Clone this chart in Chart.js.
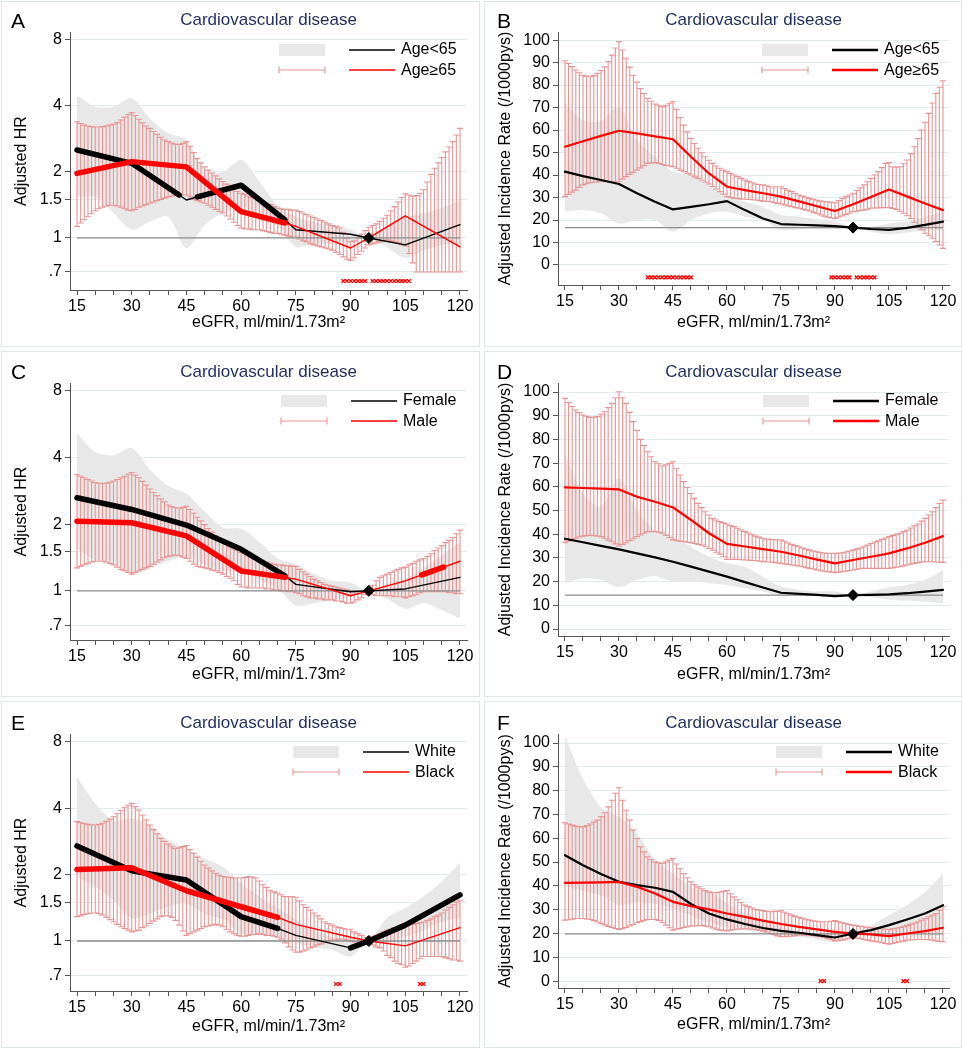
<!DOCTYPE html>
<html>
<head>
<meta charset="utf-8">
<title>Cardiovascular disease by eGFR</title>
<script src="https://cdn.jsdelivr.net/npm/chart.js@4.4.0/dist/chart.umd.min.js"></script>
<style>
  body { margin: 0; background: #fff; }
  #page { position: relative; width: 963px; height: 1050px; }
  .frame { position: absolute; border: 1px solid #dfe6e6; box-sizing: border-box; }
  canvas { position: absolute; }
</style>
</head>
<body>
<div id="page">
  <div class="frame" style="left:1px;top:1px;width:479px;height:346px"></div>
  <div class="frame" style="left:484px;top:1px;width:478px;height:346px"></div>
  <div class="frame" style="left:1px;top:351px;width:479px;height:346px"></div>
  <div class="frame" style="left:484px;top:351px;width:478px;height:346px"></div>
  <div class="frame" style="left:1px;top:701px;width:479px;height:347px"></div>
  <div class="frame" style="left:484px;top:701px;width:478px;height:347px"></div>
  <canvas id="chartA" width="481" height="350" style="left:0;top:0"></canvas>
  <canvas id="chartB" width="482" height="350" style="left:481px;top:0"></canvas>
  <canvas id="chartC" width="481" height="350" style="left:0;top:350px"></canvas>
  <canvas id="chartD" width="482" height="350" style="left:481px;top:350px"></canvas>
  <canvas id="chartE" width="481" height="350" style="left:0;top:700px"></canvas>
  <canvas id="chartF" width="482" height="350" style="left:481px;top:700px"></canvas>
</div>
<script>
"use strict";

const family = "'Liberation Sans', Arial, sans-serif";
Chart.defaults.font.family = family;
Chart.defaults.color = "#000";

// eGFR positions: one error bar per unit, band/curves read every 5 units
const ciX = [];
for (let x = 15; x <= 120; x++) ciX.push(x);
const stepX = [15, 20, 25, 30, 35, 40, 45, 50, 55, 60, 65, 70, 75, 80, 85, 90, 95, 100, 105, 110, 115, 120];
const xTicks = [15, 20, 25, 30, 35, 40, 45, 50, 55, 60, 65, 70, 75, 80, 85, 90, 95, 100, 105, 110, 115, 120];
const hrTicks = [0.7, 1, 1.5, 2, 4, 8];
const irTicks = [0, 10, 20, 30, 40, 50, 60, 70, 80, 90, 100];

const bandColor = "#e8e8e8";
const ciColor = "#e89595";

// ---------- Panel A: HR, age ----------
const aCiHi = [3.39, 3.33, 3.27, 3.24, 3.22, 3.21, 3.21, 3.22, 3.24, 3.27, 3.30, 3.36, 3.45, 3.56, 3.66,
  3.73, 3.62, 3.48, 3.35, 3.24, 3.16, 3.06, 2.97, 2.88, 2.80, 2.75, 2.71, 2.68, 2.67, 2.70,
  2.75, 2.62, 2.45, 2.30, 2.20, 2.11, 2.04, 1.98, 1.92, 1.86, 1.81, 1.76, 1.71, 1.67, 1.63,
  1.60, 1.58, 1.55, 1.53, 1.51, 1.49, 1.46, 1.44, 1.42, 1.39, 1.37, 1.36, 1.35, 1.35, 1.34,
  1.34, 1.32, 1.30, 1.28, 1.26, 1.24, 1.22, 1.20, 1.18, 1.16, 1.14, 1.13, 1.11, 1.06, 1.00,
  0.96, 0.97, 1.00, 1.04, 1.08, 1.12, 1.14, 1.16, 1.19, 1.23, 1.27, 1.33, 1.39, 1.46, 1.53,
  1.59, 1.57, 1.55, 1.56, 1.60, 1.66, 1.80, 1.95, 2.08, 2.20, 2.33, 2.47, 2.60, 2.75, 2.95,
  3.16];
const aCiLo = [1.13, 1.17, 1.21, 1.25, 1.29, 1.33, 1.36, 1.38, 1.40, 1.41, 1.41, 1.40, 1.38, 1.36, 1.34,
  1.33, 1.35, 1.38, 1.40, 1.42, 1.44, 1.46, 1.48, 1.50, 1.52, 1.54, 1.55, 1.56, 1.57, 1.57,
  1.57, 1.54, 1.50, 1.48, 1.46, 1.44, 1.41, 1.38, 1.35, 1.32, 1.30, 1.26, 1.22, 1.18, 1.14,
  1.11, 1.10, 1.10, 1.09, 1.09, 1.09, 1.08, 1.07, 1.06, 1.05, 1.05, 1.04, 1.03, 1.02, 1.01,
  1.01, 0.99, 0.97, 0.96, 0.94, 0.93, 0.92, 0.91, 0.90, 0.89, 0.88, 0.86, 0.84, 0.82, 0.80,
  0.79, 0.81, 0.84, 0.87, 0.90, 0.93, 0.94, 0.95, 0.96, 0.97, 0.98, 0.97, 0.96, 0.95, 0.93,
  0.92, 0.85, 0.77, 0.70, 0.70, 0.70, 0.70, 0.70, 0.70, 0.70, 0.70, 0.70, 0.70, 0.70, 0.70,
  0.70];
const aBandHi = [4.45, 3.97, 3.97, 4.34, 3.51, 3.00, 2.80, 2.04, 2.00, 2.27, 1.81, 1.41, 1.25, 1.18, 1.15, 1.09, 1.00, 1.13, 1.24, 1.30, 1.37, 1.49];
const aBandLo = [1.55, 1.54, 1.30, 1.09, 1.19, 1.25, 0.90, 1.15, 1.30, 1.40, 1.28, 1.13, 0.91, 0.94, 0.94, 0.96, 1.00, 0.91, 0.81, 0.88, 0.93, 0.94];
const aBlackX = [15, 30, 43, 45, 48, 60, 72, 75, 90, 95, 105, 120];
const aBlackY = [2.52, 2.19, 1.57, 1.49, 1.54, 1.74, 1.21, 1.09, 1.04, 1.00, 0.93, 1.15];
const aBlackSig = [[15, 43], [48, 72]];
const aRedX = [15, 30, 45, 60, 72, 75, 90, 95, 105, 120];
const aRedY = [1.97, 2.23, 2.11, 1.32, 1.17, 1.13, 0.90, 1.00, 1.26, 0.91];
const aRedSig = [[15, 72]];
const aStarX = [88, 89, 90, 91, 92, 93, 94, 96, 97, 98, 99, 100, 101, 102, 103, 104, 105, 106];

// ---------- Panel B: incidence, age ----------
const bCiHi = [90.8, 89.6, 88.2, 86.7, 85.5, 84.4, 84.0, 83.7, 84.2, 85.2, 86.5, 88.1, 90.5, 93.3, 96.5,
  99.3, 95.6, 91.9, 88.0, 84.4, 81.3, 78.5, 76.2, 74.1, 72.8, 71.6, 71.0, 70.4, 71.0, 71.9,
  72.6, 69.2, 65.6, 62.2, 59.2, 56.3, 54.0, 51.9, 49.9, 48.1, 46.6, 45.2, 44.0, 43.0, 42.2,
  41.5, 40.7, 40.0, 39.3, 38.5, 37.8, 37.2, 36.6, 36.0, 35.8, 35.6, 35.2, 34.8, 34.8, 34.8,
  34.8, 34.0, 33.3, 32.6, 31.8, 31.1, 30.6, 30.1, 29.6, 29.2, 28.8, 28.4, 28.2, 28.1, 27.9,
  27.7, 28.6, 29.6, 30.4, 31.1, 31.9, 33.1, 34.3, 35.6, 37.0, 38.5, 40.0, 41.5, 43.3, 45.2,
  45.5, 43.7, 43.5, 43.7, 45.0, 46.7, 49.5, 52.6, 56.2, 60.0, 63.5, 67.4, 72.0, 76.3, 79.0,
  81.9];
const bCiLo = [30.4, 31.4, 32.4, 33.3, 34.5, 35.6, 36.1, 36.6, 36.8, 36.9, 37.0, 37.0, 37.0, 37.0, 37.0,
  37.0, 38.2, 39.3, 40.3, 41.2, 42.2, 43.2, 44.2, 45.2, 45.4, 45.5, 45.1, 44.7, 44.3, 44.0,
  43.7, 43.0, 42.2, 41.5, 40.7, 40.0, 39.2, 38.5, 37.7, 36.8, 36.0, 34.9, 33.8, 32.6, 31.5,
  30.4, 30.0, 29.6, 29.5, 29.3, 29.2, 29.1, 29.0, 28.9, 28.6, 28.4, 28.2, 28.1, 27.8, 27.4,
  27.1, 26.7, 26.3, 25.9, 25.5, 25.2, 24.8, 24.4, 24.0, 23.4, 22.8, 22.2, 21.7, 21.2, 20.9,
  20.7, 21.2, 21.8, 22.4, 23.0, 23.7, 23.9, 24.2, 24.4, 24.8, 25.2, 25.3, 25.4, 25.5, 25.5,
  25.5, 25.1, 24.7, 23.9, 23.0, 21.9, 20.7, 18.9, 17.0, 15.6, 14.1, 13.0, 11.9, 10.4, 8.9,
  7.4];
const bBandHi = [71.9, 64.4, 64.0, 70.4, 55.6, 48.1, 41.5, 40.0, 36.0, 30.4, 28.1, 25.9, 22.2, 21.5, 20.3, 19.3, 16.6, 17.0, 18.5, 19.3, 21.5, 23.7];
const bBandLo = [23.7, 24.4, 23.0, 18.5, 20.0, 20.0, 14.8, 20.0, 23.0, 23.7, 21.5, 20.0, 15.6, 15.9, 15.9, 15.9, 16.6, 14.8, 13.6, 14.4, 15.6, 15.6];
const bBlackY = [41.5, 39.5, 37.8, 36.0, 31.9, 28.1, 24.7, 25.8, 27.0, 28.4, 24.4, 20.7, 18.2, 17.9, 17.6, 17.3, 16.6, 16.0, 15.6, 16.5, 17.8, 19.3];
const bRedY = [52.6, 55.0, 57.4, 59.7, 58.5, 57.2, 55.9, 48.1, 40.7, 34.8, 33.3, 31.9, 30.4, 28.3, 26.1, 24.0, 27.0, 30.2, 33.6, 30.5, 27.3, 24.4];
const bStarX = [38, 39, 40, 41, 42, 43, 44, 45, 46, 47, 48, 49, 50, 89, 90, 91, 92, 93, 94, 96, 97, 98, 99, 100, 101];

// ---------- Panel C: HR, sex ----------
const cCiHi = [3.35, 3.29, 3.24, 3.18, 3.13, 3.08, 3.06, 3.05, 3.06, 3.09, 3.13, 3.18, 3.24, 3.29, 3.36,
  3.42, 3.33, 3.24, 3.12, 3.00, 2.88, 2.78, 2.69, 2.60, 2.52, 2.44, 2.40, 2.37, 2.36, 2.38,
  2.41, 2.33, 2.24, 2.15, 2.07, 1.99, 1.91, 1.84, 1.77, 1.71, 1.66, 1.62, 1.58, 1.55, 1.52,
  1.49, 1.47, 1.44, 1.42, 1.40, 1.38, 1.36, 1.35, 1.33, 1.32, 1.31, 1.31, 1.30, 1.30, 1.29,
  1.29, 1.25, 1.22, 1.19, 1.16, 1.13, 1.11, 1.09, 1.07, 1.06, 1.05, 1.04, 1.03, 1.02, 1.01,
  1.00, 1.00, 0.99, 0.99, 1.00, 1.01, 1.06, 1.11, 1.15, 1.17, 1.19, 1.21, 1.23, 1.25, 1.27,
  1.28, 1.31, 1.33, 1.36, 1.38, 1.40, 1.43, 1.47, 1.52, 1.56, 1.60, 1.65, 1.69, 1.74, 1.81,
  1.88];
const cCiLo = [1.27, 1.29, 1.31, 1.33, 1.35, 1.36, 1.36, 1.36, 1.35, 1.33, 1.31, 1.28, 1.25, 1.23, 1.21,
  1.19, 1.21, 1.23, 1.25, 1.27, 1.29, 1.32, 1.35, 1.38, 1.41, 1.43, 1.44, 1.45, 1.44, 1.42,
  1.40, 1.36, 1.32, 1.29, 1.28, 1.27, 1.26, 1.24, 1.23, 1.21, 1.19, 1.16, 1.14, 1.11, 1.07,
  1.04, 1.04, 1.03, 1.03, 1.03, 1.03, 1.03, 1.02, 1.02, 1.01, 1.01, 1.00, 1.00, 0.99, 0.99,
  0.98, 0.97, 0.95, 0.94, 0.93, 0.93, 0.92, 0.92, 0.91, 0.91, 0.91, 0.90, 0.90, 0.89, 0.88,
  0.88, 0.89, 0.91, 0.93, 0.96, 0.99, 0.96, 0.95, 0.95, 0.95, 0.95, 0.95, 0.94, 0.94, 0.94,
  0.93, 0.94, 0.95, 0.96, 0.98, 0.99, 0.99, 0.99, 0.99, 0.99, 0.99, 0.99, 0.98, 0.98, 0.97,
  0.97];
const cBandHi = [5.13, 4.23, 4.09, 4.41, 3.52, 2.98, 2.74, 2.28, 1.93, 1.91, 1.66, 1.40, 1.32, 1.19, 1.11, 1.09, 1.00, 1.07, 1.13, 1.27, 1.45, 1.66];
const cBandLo = [1.55, 1.38, 1.36, 1.19, 1.27, 1.36, 1.43, 1.31, 1.23, 1.23, 1.13, 1.02, 0.86, 0.88, 0.91, 0.94, 1.00, 0.92, 0.83, 0.88, 0.82, 0.75];
const cBlackX = [15, 30, 45, 60, 72, 75, 90, 95, 105, 120];
const cBlackY = [2.63, 2.33, 1.98, 1.54, 1.17, 1.07, 0.99, 1.00, 1.02, 1.15];
const cBlackSig = [[15, 72]];
const cRedX = [15, 30, 45, 60, 72, 75, 90, 95, 105, 109.5, 115.5, 120];
const cRedY = [2.06, 2.03, 1.77, 1.23, 1.15, 1.13, 0.95, 1.00, 1.11, 1.18, 1.28, 1.36];
const cRedSig = [[15, 72], [109.5, 115.5]];

// ---------- Panel D: incidence, sex ----------
const dCiHi = [97.3, 95.5, 93.9, 92.4, 91.3, 90.3, 89.8, 89.3, 89.4, 89.6, 90.6, 91.7, 93.4, 95.2, 97.6,
  100.1, 97.6, 95.2, 91.4, 87.5, 83.8, 80.0, 77.4, 74.8, 72.7, 70.6, 69.7, 68.8, 69.3, 69.9,
  70.6, 67.8, 65.0, 62.2, 59.7, 57.2, 55.1, 53.0, 51.2, 49.5, 48.1, 46.7, 46.0, 45.3, 44.8,
  44.3, 43.7, 43.2, 42.5, 41.8, 41.1, 40.5, 39.8, 39.2, 38.7, 38.3, 38.0, 37.8, 37.7, 37.6,
  37.6, 37.0, 36.3, 35.7, 35.2, 34.7, 34.2, 33.7, 33.3, 32.9, 32.6, 32.3, 32.1, 31.9, 31.9,
  31.9, 32.0, 32.2, 32.5, 32.9, 33.3, 33.8, 34.2, 34.7, 35.4, 36.1, 36.7, 37.2, 37.8, 38.4,
  39.0, 39.5, 40.0, 40.4, 41.1, 41.8, 42.6, 43.5, 44.3, 45.5, 46.7, 48.1, 49.5, 51.2, 53.0,
  54.4];
const dCiLo = [36.4, 37.0, 37.7, 38.3, 38.8, 39.2, 39.4, 39.5, 39.4, 39.2, 39.0, 38.3, 37.5, 36.8, 35.9,
  35.0, 35.7, 36.4, 37.3, 38.1, 39.0, 39.7, 40.4, 41.1, 41.1, 41.1, 40.8, 40.4, 39.5, 38.5,
  37.6, 37.3, 37.1, 36.8, 36.6, 36.4, 36.1, 35.7, 35.4, 34.7, 34.0, 33.2, 32.4, 31.6, 30.5,
  29.4, 29.4, 29.4, 29.3, 29.2, 29.1, 29.0, 28.9, 28.8, 28.6, 28.4, 28.3, 28.3, 28.1, 27.9,
  27.7, 27.5, 27.2, 27.0, 26.8, 26.6, 26.3, 25.9, 25.6, 25.3, 24.9, 24.6, 24.4, 24.2, 24.0,
  23.8, 24.0, 24.2, 24.4, 24.7, 24.9, 25.1, 25.4, 25.6, 25.6, 25.6, 25.6, 25.6, 25.6, 25.6,
  25.6, 25.8, 26.1, 26.3, 26.6, 27.0, 27.3, 27.7, 28.0, 28.2, 28.4, 28.4, 28.4, 28.3, 28.2,
  28.1];
const dBandHi = [73.4, 57.2, 51.6, 63.6, 50.2, 41.8, 39.0, 34.7, 30.5, 27.7, 26.3, 22.1, 17.9, 16.5, 15.8, 15.8, 14.3, 15.8, 17.6, 18.6, 20.7, 24.9];
const dBandLo = [19.3, 21.4, 20.7, 17.6, 20.7, 22.4, 20.0, 20.3, 19.3, 18.6, 17.2, 15.8, 13.9, 13.9, 13.9, 13.4, 14.3, 13.4, 12.5, 12.0, 11.5, 10.8];
const dBlackY = [38.1, 36.6, 35.1, 33.6, 31.9, 30.2, 28.4, 26.3, 24.2, 22.1, 19.8, 17.5, 15.3, 14.8, 14.4, 13.9, 14.3, 14.4, 14.6, 15.1, 15.8, 16.5];
const dRedY = [59.8, 59.5, 59.2, 58.9, 55.8, 53.7, 51.3, 46.0, 40.4, 35.9, 34.8, 33.7, 32.6, 31.0, 29.3, 27.7, 29.1, 30.5, 31.9, 34.0, 36.4, 39.2];

// ---------- Panel E: HR, race ----------
const eCiHi = [3.48, 3.44, 3.41, 3.38, 3.37, 3.36, 3.38, 3.42, 3.49, 3.57, 3.66, 3.78, 3.91, 4.04, 4.13,
  4.21, 4.07, 3.93, 3.73, 3.54, 3.36, 3.20, 3.06, 2.92, 2.83, 2.75, 2.69, 2.63, 2.65, 2.68,
  2.71, 2.60, 2.50, 2.40, 2.30, 2.21, 2.14, 2.08, 2.03, 1.99, 1.96, 1.95, 1.94, 1.93, 1.93,
  1.93, 1.94, 1.96, 1.95, 1.93, 1.87, 1.80, 1.75, 1.70, 1.67, 1.65, 1.62, 1.59, 1.59, 1.59,
  1.58, 1.52, 1.46, 1.42, 1.38, 1.34, 1.30, 1.26, 1.22, 1.20, 1.18, 1.16, 1.15, 1.14, 1.13,
  1.13, 1.10, 1.08, 1.06, 1.04, 1.03, 1.05, 1.06, 1.08, 1.10, 1.12, 1.13, 1.15, 1.16, 1.17,
  1.18, 1.19, 1.19, 1.20, 1.21, 1.22, 1.24, 1.26, 1.29, 1.31, 1.34, 1.38, 1.42, 1.46, 1.50,
  1.53];
const eCiLo = [1.29, 1.30, 1.32, 1.33, 1.34, 1.34, 1.33, 1.31, 1.28, 1.25, 1.22, 1.19, 1.16, 1.14, 1.12,
  1.10, 1.11, 1.12, 1.15, 1.17, 1.20, 1.23, 1.26, 1.29, 1.30, 1.30, 1.28, 1.24, 1.18, 1.11,
  1.06, 1.08, 1.10, 1.12, 1.14, 1.16, 1.17, 1.18, 1.19, 1.18, 1.16, 1.13, 1.10, 1.08, 1.06,
  1.05, 1.05, 1.06, 1.07, 1.07, 1.08, 1.07, 1.06, 1.06, 1.05, 1.04, 1.02, 0.98, 0.94, 0.91,
  0.89, 0.89, 0.90, 0.91, 0.93, 0.94, 0.96, 0.97, 0.99, 1.00, 1.01, 1.01, 1.02, 1.02, 1.01,
  1.00, 0.99, 0.99, 0.99, 0.98, 0.98, 0.96, 0.94, 0.93, 0.90, 0.86, 0.84, 0.81, 0.79, 0.78,
  0.76, 0.77, 0.79, 0.81, 0.83, 0.85, 0.85, 0.85, 0.85, 0.85, 0.85, 0.84, 0.83, 0.82, 0.82,
  0.81];
const eBandHi = [5.54, 4.21, 3.53, 3.60, 3.36, 2.87, 2.63, 2.37, 2.17, 1.83, 1.59, 1.41, 1.25, 1.12, 1.04, 1.00, 1.00, 1.27, 1.41, 1.59, 1.86, 2.27];
const eBandLo = [1.95, 1.76, 1.53, 1.27, 1.33, 1.43, 1.48, 1.33, 1.25, 1.08, 1.06, 1.05, 0.98, 0.94, 0.91, 0.85, 1.00, 0.99, 1.05, 1.12, 1.22, 1.27];
const eBlackX = [15, 30, 45, 60, 70, 75, 90, 95, 105, 120];
const eBlackY = [2.70, 2.08, 1.89, 1.29, 1.14, 1.06, 0.93, 1.00, 1.18, 1.62];
const eBlackSig = [[15, 70], [90, 120]];
const eRedX = [15, 30, 45, 60, 70, 75, 90, 95, 105, 120];
const eRedY = [2.11, 2.15, 1.69, 1.43, 1.28, 1.19, 1.04, 1.00, 0.95, 1.15];
const eRedSig = [[15, 70]];
const eStarX = [86, 87, 109, 110];

// ---------- Panel F: incidence, race ----------
const fCiHi = [66.5, 66.0, 65.5, 65.1, 64.9, 64.8, 65.3, 66.0, 66.8, 67.6, 69.1, 70.7, 73.2, 76.0, 78.9,
  81.2, 76.0, 71.8, 67.6, 63.4, 59.9, 56.4, 54.3, 52.2, 51.1, 50.1, 49.7, 49.4, 50.1, 50.8,
  51.5, 49.2, 47.2, 45.2, 43.4, 41.7, 40.6, 39.6, 38.8, 38.0, 37.5, 37.1, 37.2, 37.4, 37.7,
  38.0, 36.7, 35.4, 34.2, 33.0, 31.9, 31.3, 30.7, 30.1, 29.8, 29.6, 29.3, 29.1, 29.3, 29.4,
  29.6, 28.9, 28.3, 27.7, 27.2, 26.8, 26.4, 26.0, 25.6, 25.3, 25.1, 24.9, 24.9, 24.9, 25.1,
  25.4, 24.9, 24.5, 24.2, 23.8, 23.5, 23.3, 23.0, 22.8, 22.6, 22.4, 22.3, 22.1, 22.0, 21.8,
  21.7, 22.0, 22.2, 22.5, 22.9, 23.4, 23.9, 24.4, 24.9, 25.6, 26.3, 27.0, 27.7, 28.4, 29.8,
  31.2];
const fCiLo = [25.6, 25.8, 26.0, 26.3, 26.3, 26.3, 26.1, 25.9, 25.4, 24.8, 24.2, 23.6, 23.0, 22.5, 22.1,
  21.7, 22.1, 22.5, 23.2, 23.8, 24.5, 25.0, 25.5, 25.9, 25.9, 25.9, 25.4, 24.5, 23.5, 22.4,
  21.4, 21.8, 22.1, 22.5, 22.8, 23.1, 23.2, 23.3, 23.4, 23.1, 22.8, 22.3, 21.8, 21.4, 21.2,
  21.1, 21.4, 21.7, 21.8, 21.9, 22.0, 21.9, 21.8, 21.7, 21.4, 21.1, 20.6, 20.0, 19.5, 19.0,
  18.6, 18.7, 18.8, 18.9, 19.1, 19.3, 19.3, 19.3, 19.3, 19.1, 18.9, 18.6, 18.3, 17.9, 17.4,
  16.9, 17.0, 17.2, 17.6, 18.0, 18.3, 18.0, 17.8, 17.5, 17.2, 16.9, 16.7, 16.4, 16.1, 15.8,
  15.5, 15.8, 16.1, 16.5, 16.8, 17.2, 17.3, 17.4, 17.5, 17.5, 17.5, 17.4, 17.2, 16.9, 16.7,
  16.5];
const fBandHi = [103.0, 85.0, 73.0, 69.0, 62.0, 50.8, 45.2, 39.6, 37.5, 32.6, 28.4, 25.6, 22.8, 20.7, 20.0, 19.7, 20.0, 23.5, 27.7, 31.9, 37.5, 45.0];
const fBandLo = [40.0, 38.0, 36.0, 32.0, 33.0, 32.5, 30.5, 27.5, 24.5, 22.5, 21.5, 20.0, 19.3, 18.6, 17.5, 16.5, 20.0, 18.6, 18.3, 19.3, 20.0, 20.7];
const fBlackY = [52.9, 48.7, 45.0, 41.7, 40.3, 39.2, 37.5, 32.4, 28.4, 25.9, 24.0, 22.3, 21.1, 20.3, 19.3, 18.3, 20.0, 21.4, 23.5, 25.9, 28.4, 31.9];
const fRedY = [41.3, 41.4, 41.5, 41.7, 39.6, 36.8, 33.3, 31.5, 30.1, 28.4, 27.0, 25.4, 24.0, 22.8, 21.7, 20.7, 20.0, 19.6, 18.9, 20.0, 21.0, 22.4];
const fStarX = [86, 87, 109, 110];


// error bars for the red series, drawn right after the grey band
function makeErrorBars(lo, hi) {
  return {
    id: "errorBars",
    afterDatasetDraw(chart, args) {
      if (!chart.data.datasets[args.index].isBand) return;
      let ctx = chart.ctx, xs = chart.scales.x, ys = chart.scales.y, area = chart.chartArea;
      ctx.save();
      ctx.beginPath();
      ctx.rect(area.left, area.top, area.right - area.left, area.bottom - area.top);
      ctx.clip();
      ctx.strokeStyle = ciColor;
      ctx.lineWidth = 1.1;
      ctx.beginPath();
      ciX.forEach((x, i) => {
        let px = xs.getPixelForValue(x);
        let y1 = ys.getPixelForValue(lo[i]);
        let y2 = ys.getPixelForValue(hi[i]);
        ctx.moveTo(px, y1); ctx.lineTo(px, y2);
        ctx.moveTo(px - 3, y1); ctx.lineTo(px + 3, y1);
        ctx.moveTo(px - 3, y2); ctx.lineTo(px + 3, y2);
      });
      ctx.stroke();
      ctx.restore();
    }
  };
}

// Stata-style key (band / error bar / two lines) and the panel letter
function makeKey(p) {
  return {
    id: "key",
    afterDraw(chart) {
      let ctx = chart.ctx, w = 46, kx = p.keyX, lx = p.keyX + 70, tx = p.keyX + 122;
      ctx.save();
      ctx.fillStyle = bandColor;
      ctx.fillRect(kx, p.row1 - 6, w, 12);
      ctx.strokeStyle = ciColor;
      ctx.lineWidth = 1.1;
      ctx.beginPath();
      ctx.moveTo(kx, p.row2); ctx.lineTo(kx + w, p.row2);
      ctx.moveTo(kx, p.row2 - 3.5); ctx.lineTo(kx, p.row2 + 3.5);
      ctx.moveTo(kx + w, p.row2 - 3.5); ctx.lineTo(kx + w, p.row2 + 3.5);
      ctx.stroke();
      ctx.lineWidth = p.log ? 1.5 : 2.4;
      ctx.strokeStyle = "#000";
      ctx.beginPath(); ctx.moveTo(lx, p.row1); ctx.lineTo(lx + w, p.row1); ctx.stroke();
      ctx.strokeStyle = "#ff0000";
      ctx.beginPath(); ctx.moveTo(lx, p.row2); ctx.lineTo(lx + w, p.row2); ctx.stroke();
      ctx.fillStyle = "#000";
      ctx.textBaseline = "middle";
      ctx.textAlign = "left";
      ctx.font = "16px " + family;
      ctx.fillText(p.names[0], tx, p.row1);
      ctx.fillText(p.names[1], tx, p.row2 + 1);
      ctx.font = "21px " + family;
      ctx.fillText(p.letter, p.letterX, p.letterY);
      ctx.restore();
    }
  };
}

function xy(xs, ys) {
  return xs.map((x, i) => ({ x: x, y: ys[i] }));
}

function inSig(ranges, a, b) {
  return ranges.some(r => a >= r[0] - 0.01 && b <= r[1] + 0.01);
}

function makePanel(p) {
  let thin = p.log ? 1.4 : 2.2;
  let datasets = [
    { data: xy(stepX, p.bandLo), borderWidth: 0, pointRadius: 0, fill: false, tension: 0.3, order: 10 },
    { data: xy(stepX, p.bandHi), borderWidth: 0, pointRadius: 0, fill: "-1", tension: 0.3,
      backgroundColor: bandColor, order: 9, isBand: true },
    { data: [{ x: 15, y: p.ref }, { x: 120, y: p.ref }], borderColor: "#8c8c8c", borderWidth: 1.3,
      pointRadius: 0, order: 8 },
    { data: xy(p.blackX, p.blackY), borderColor: "#000", pointRadius: 0, borderWidth: thin,
      borderCapStyle: "round", borderJoinStyle: "round", order: 6,
      segment: { borderWidth: c => inSig(p.blackSig, c.p0.parsed.x, c.p1.parsed.x) ? 5.5 : thin } },
    { data: xy(p.redX, p.redY), borderColor: "#ff0000", pointRadius: 0, borderWidth: thin,
      borderCapStyle: "round", borderJoinStyle: "round", order: 5,
      segment: { borderWidth: c => inSig(p.redSig, c.p0.parsed.x, c.p1.parsed.x) ? 5.5 : thin } },
    { data: [{ x: 95, y: p.ref }], pointStyle: "rectRot", pointRadius: 5.5, pointBackgroundColor: "#000",
      pointBorderColor: "#000", showLine: false, order: 1 }
  ];
  if (p.starX.length) {
    datasets.push({ data: p.starX.map(x => ({ x: x, y: p.starY })), showLine: false, pointStyle: "crossRot",
      pointRadius: 2.6, pointBorderColor: "#ff0000", pointBorderWidth: 1.3, order: 7 });
  }

  let yScale = {
    type: p.log ? "logarithmic" : "linear",
    min: p.yMin,
    max: p.yMax,
    afterBuildTicks: s => { s.ticks = (p.log ? hrTicks : irTicks).map(v => ({ value: v })); },
    afterFit: s => { s.width = p.left; },
    ticks: { font: { size: 16 }, color: "#000", padding: 3,
      callback: v => (v === 0.7 ? ".7" : String(v)) },
    grid: { color: "#e2ecec", lineWidth: 1, tickLength: 5, tickColor: "#555" },
    border: { color: "#555", width: 1 },
    title: { display: true, text: p.yTitle, font: { size: 16 }, color: "#000",
      padding: { top: p.yTitlePad, bottom: 0 } }
  };

  new Chart(document.getElementById(p.id), {
    type: "line",
    data: { datasets: datasets },
    options: {
      responsive: false,
      animation: false,
      events: [],
      layout: { padding: { left: 0, right: p.rightPad, top: 0, bottom: 0 } },
      plugins: {
        legend: { display: false },
        tooltip: { enabled: false },
        title: { display: true, text: "Cardiovascular disease", color: "#1f2d5e", fullSize: false,
          font: { size: 17, weight: "normal" }, padding: { top: p.tTop, bottom: p.tBottom } }
      },
      scales: {
        x: {
          type: "linear",
          min: p.xMin,
          max: p.xMax,
          afterBuildTicks: s => { s.ticks = xTicks.map(v => ({ value: v })); },
          afterFit: s => { s.height = p.xH; },
          ticks: { autoSkip: false, maxRotation: 0, padding: 2, font: { size: 16 }, color: "#000",
            callback: v => ((v - 15) % 15 === 0 ? String(v) : "") },
          grid: { drawOnChartArea: false, tickLength: 5, tickColor: "#555" },
          border: { color: "#555", width: 1 },
          title: { display: true, text: "eGFR, ml/min/1.73m²", font: { size: 16 }, color: "#000",
            padding: { top: 0, bottom: p.xTitlePad } }
        },
        y: yScale
      }
    },
    plugins: [makeErrorBars(p.ciLo, p.ciHi), makeKey(p)]
  });
}

const hrTitle = "Adjusted HR";
const irTitle = "Adjusted Incidence Rate (/1000pys)";

makePanel({ id: "chartA", letter: "A", letterX: 11, letterY: 22, names: ["Age<65", "Age≥65"],
  log: true, yMin: 0.579, yMax: 8.70, xMin: 13.08, xMax: 121.92, left: 70, rightPad: 14, xH: 60,
  tTop: 10.3, tBottom: 1.3, yTitle: hrTitle, yTitlePad: 12, xTitlePad: 17.4,
  keyX: 279, row1: 50, row2: 70, ref: 1,
  ciLo: aCiLo, ciHi: aCiHi, bandLo: aBandLo, bandHi: aBandHi,
  blackX: aBlackX, blackY: aBlackY, blackSig: aBlackSig, redX: aRedX, redY: aRedY, redSig: aRedSig,
  starX: aStarX, starY: 0.636 });

makePanel({ id: "chartB", letter: "B", letterX: 16, letterY: 22, names: ["Age<65", "Age≥65"],
  log: false, yMin: -8.9, yMax: 103.6, xMin: 13.06, xMax: 121.67, left: 77, rightPad: 14, xH: 65,
  tTop: 10.3, tBottom: 1.3, yTitle: irTitle, yTitlePad: 15, xTitlePad: 17.4,
  keyX: 281, row1: 50, row2: 70, ref: 16.6,
  ciLo: bCiLo, ciHi: bCiHi, bandLo: bBandLo, bandHi: bBandHi,
  blackX: stepX, blackY: bBlackY, blackSig: [], redX: stepX, redY: bRedY, redSig: [],
  starX: bStarX, starY: -5.5 });

makePanel({ id: "chartC", letter: "C", letterX: 11, letterY: 23.5, names: ["Female", "Male"],
  log: true, yMin: 0.648, yMax: 8.67, xMin: 13.08, xMax: 121.92, left: 70, rightPad: 14, xH: 60,
  tTop: 11.8, tBottom: 0.8, yTitle: hrTitle, yTitlePad: 12, xTitlePad: 15.4,
  keyX: 281, row1: 51, row2: 71, ref: 1,
  ciLo: cCiLo, ciHi: cCiHi, bandLo: cBandLo, bandHi: cBandHi,
  blackX: cBlackX, blackY: cBlackY, blackSig: cBlackSig, redX: cRedX, redY: cRedY, redSig: cRedSig,
  starX: [], starY: 0 });

makePanel({ id: "chartD", letter: "D", letterX: 16, letterY: 23, names: ["Female", "Male"],
  log: false, yMin: -2.95, yMax: 103.8, xMin: 13.06, xMax: 121.67, left: 77, rightPad: 14, xH: 64,
  tTop: 11.8, tBottom: 0.8, yTitle: irTitle, yTitlePad: 15, xTitlePad: 15.4,
  keyX: 282, row1: 51, row2: 71, ref: 14.3,
  ciLo: dCiLo, ciHi: dCiHi, bandLo: dBandLo, bandHi: dBandHi,
  blackX: stepX, blackY: dBlackY, blackSig: [], redX: stepX, redY: dRedY, redSig: [],
  starX: [], starY: 0 });

makePanel({ id: "chartE", letter: "E", letterX: 11, letterY: 24.5, names: ["White", "Black"],
  log: true, yMin: 0.593, yMax: 8.69, xMin: 13.08, xMax: 121.92, left: 70, rightPad: 14, xH: 59,
  tTop: 12.8, tBottom: 0.8, yTitle: hrTitle, yTitlePad: 12, xTitlePad: 13.7,
  keyX: 293, row1: 52, row2: 72, ref: 1,
  ciLo: eCiLo, ciHi: eCiHi, bandLo: eBandLo, bandHi: eBandHi,
  blackX: eBlackX, blackY: eBlackY, blackSig: eBlackSig, redX: eRedX, redY: eRedY, redSig: eRedSig,
  starX: eStarX, starY: 0.638 });

makePanel({ id: "chartF", letter: "F", letterX: 16, letterY: 24.5, names: ["White", "Black"],
  log: false, yMin: -2.9, yMax: 103.8, xMin: 13.06, xMax: 121.67, left: 77, rightPad: 14, xH: 62,
  tTop: 12.8, tBottom: 0.8, yTitle: irTitle, yTitlePad: 15, xTitlePad: 15.4,
  keyX: 295, row1: 52, row2: 72, ref: 19.8,
  ciLo: fCiLo, ciHi: fCiHi, bandLo: fBandLo, bandHi: fBandHi,
  blackX: stepX, blackY: fBlackY, blackSig: [], redX: stepX, redY: fRedY, redSig: [],
  starX: fStarX, starY: 0 });
</script>
</body>
</html>
